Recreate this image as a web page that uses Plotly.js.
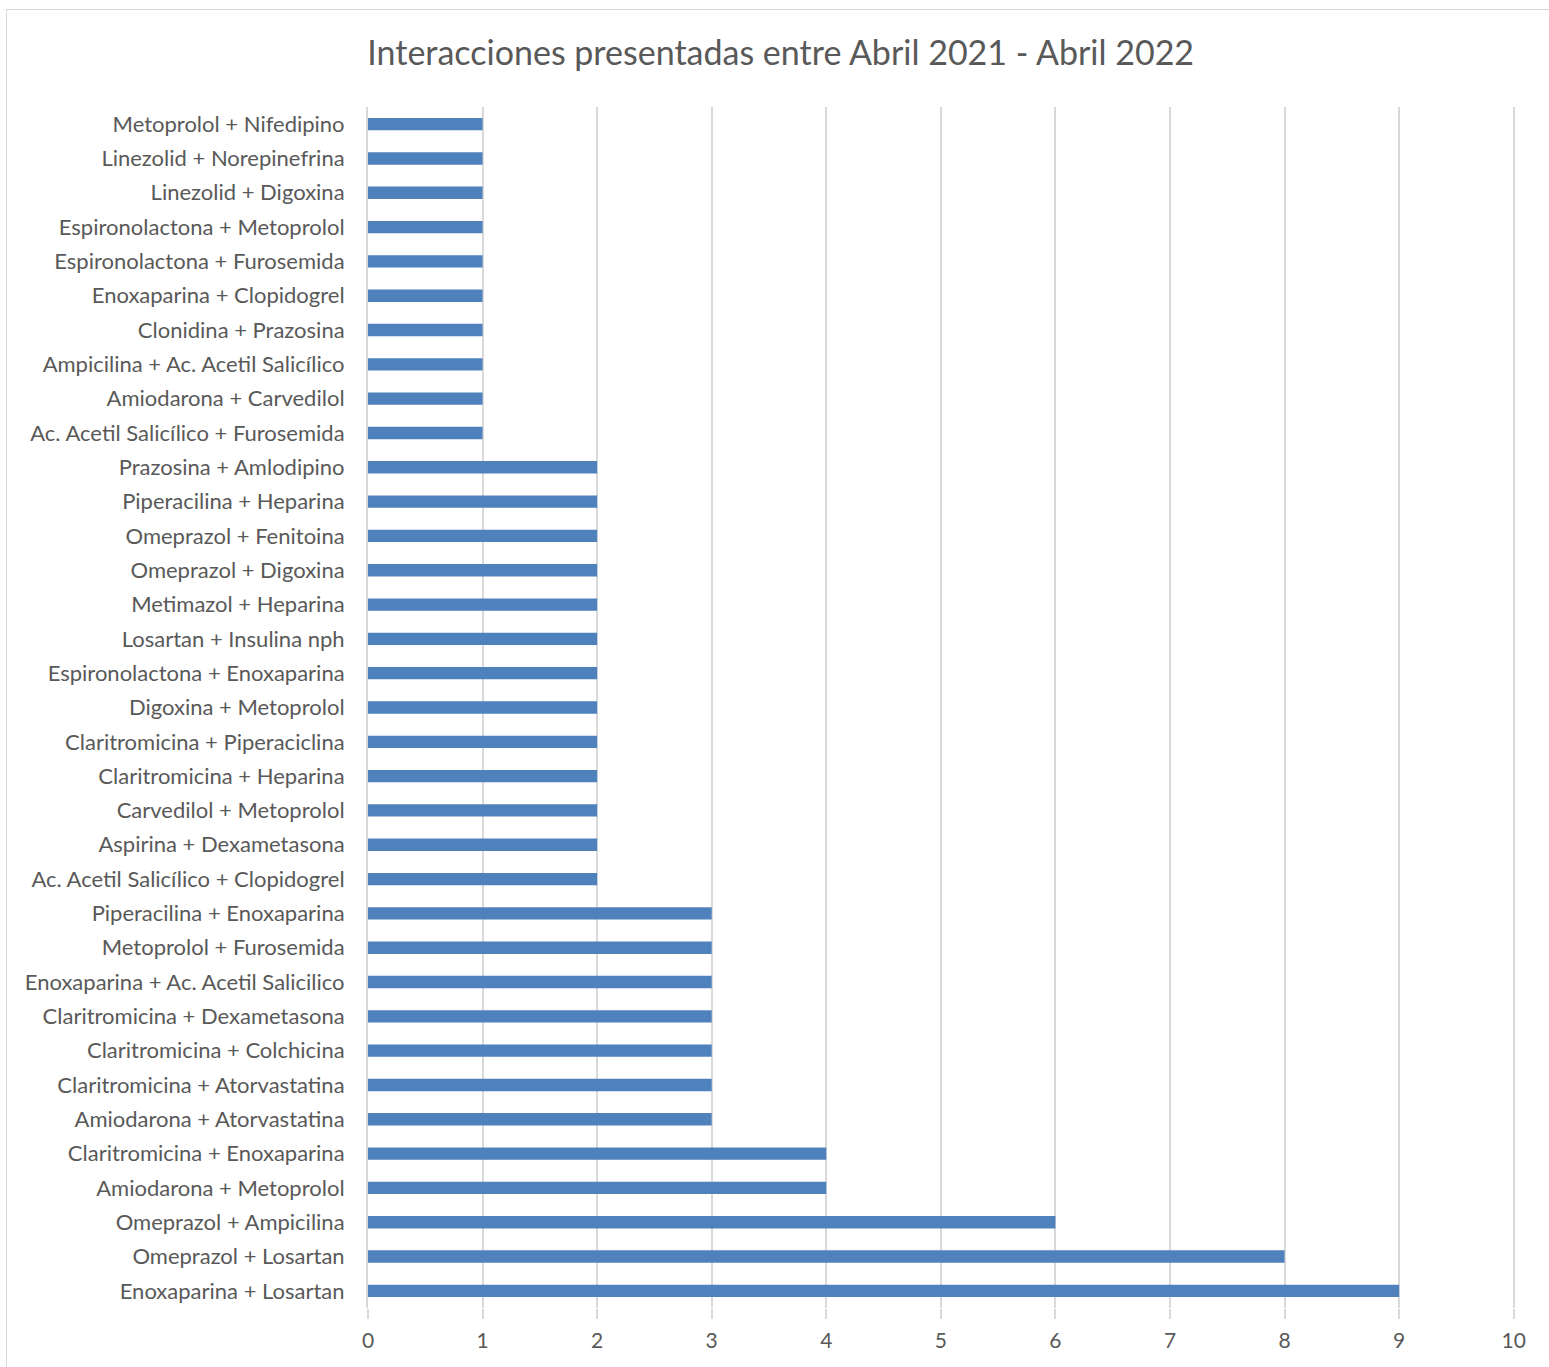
<!DOCTYPE html>
<html>
<head>
<meta charset="utf-8">
<script src="https://cdn.plot.ly/plotly-3.0.1.min.js"></script>
<style>
  html, body { margin: 0; padding: 0; background: #fff; }
  #wrap { position: relative; width: 1549px; height: 1367px; overflow: hidden; }
  #chart { position: absolute; left: 0; top: 0; width: 1549px; height: 1367px; }
  #frame { position: absolute; left: 6px; top: 9px; width: 1560px; height: 1370px; border: 1px solid #d9d9d9; pointer-events: none; }
</style>
</head>
<body>
<div id="wrap">
  <div id="chart"></div>
  <div id="frame"></div>
</div>
<script>
// Categories listed top to bottom as shown in the chart
const categories = [
  "Metoprolol + Nifedipino",
  "Linezolid + Norepinefrina",
  "Linezolid + Digoxina",
  "Espironolactona + Metoprolol",
  "Espironolactona + Furosemida",
  "Enoxaparina + Clopidogrel",
  "Clonidina + Prazosina",
  "Ampicilina + Ac. Acetil Salicílico",
  "Amiodarona + Carvedilol",
  "Ac. Acetil Salicílico + Furosemida",
  "Prazosina + Amlodipino",
  "Piperacilina + Heparina",
  "Omeprazol + Fenitoina",
  "Omeprazol + Digoxina",
  "Metimazol + Heparina",
  "Losartan + Insulina nph",
  "Espironolactona + Enoxaparina",
  "Digoxina + Metoprolol",
  "Claritromicina + Piperaciclina",
  "Claritromicina + Heparina",
  "Carvedilol + Metoprolol",
  "Aspirina + Dexametasona",
  "Ac. Acetil Salicílico + Clopidogrel",
  "Piperacilina + Enoxaparina",
  "Metoprolol + Furosemida",
  "Enoxaparina + Ac. Acetil Salicilico",
  "Claritromicina + Dexametasona",
  "Claritromicina + Colchicina",
  "Claritromicina + Atorvastatina",
  "Amiodarona + Atorvastatina",
  "Claritromicina + Enoxaparina",
  "Amiodarona + Metoprolol",
  "Omeprazol + Ampicilina",
  "Omeprazol + Losartan",
  "Enoxaparina + Losartan"
];
const counts = [
  1, 1, 1, 1, 1, 1, 1, 1, 1, 1,
  2, 2, 2, 2, 2, 2, 2, 2, 2, 2, 2, 2, 2,
  3, 3, 3, 3, 3, 3, 3,
  4, 4,
  6, 8, 9
];
const xTicks = [0, 1, 2, 3, 4, 5, 6, 7, 8, 9, 10];
const titleText = "Interacciones presentadas entre Abril 2021 - Abril 2022";

const FONT = "Lato, 'Open Sans', sans-serif";
const textColor = "#595959";

const trace = {
  type: "bar",
  orientation: "h",
  y: categories,
  x: counts,
  width: 0.36,
  marker: { color: "#4f81bd", line: { width: 0 } },
  hoverinfo: "x+y"
};

const layout = {
  width: 1549,
  height: 1367,
  paper_bgcolor: "#ffffff",
  plot_bgcolor: "#ffffff",
  margin: { l: 368, r: 33, t: 107, b: 59, pad: 0 },
  showlegend: false,
  font: { family: FONT, color: textColor, size: 22 },
  title: {
    text: titleText,
    font: { family: FONT, size: 34, color: textColor },
    x: 0.504, xanchor: "center",
    y: 1 - 53 / 1367, yanchor: "middle"
  },
  xaxis: {
    range: [0, 10.02],
    tickvals: xTicks,
    ticktext: xTicks.map(String),
    showgrid: true,
    gridcolor: "#d9d9d9",
    gridwidth: 2,
    zeroline: false,
    showline: false,
    ticks: "outside",
    ticklen: 10,
    tickwidth: 2,
    tickcolor: "#d9d9d9",
    ticklabelstandoff: 4,
    tickfont: { family: FONT, size: 21, color: textColor },
    fixedrange: true
  },
  yaxis: {
    type: "category",
    categoryorder: "array",
    categoryarray: categories,
    autorange: "reversed",
    showgrid: false,
    zeroline: false,
    showline: true,
    linecolor: "#d9d9d9",
    linewidth: 2,
    ticks: "",
    ticklabelstandoff: 17,
    tickfont: { family: FONT, size: 22, color: textColor },
    fixedrange: true
  }
};

Plotly.newPlot("chart", [trace], layout, { displayModeBar: false, staticPlot: true });
</script>
</body>
</html>
